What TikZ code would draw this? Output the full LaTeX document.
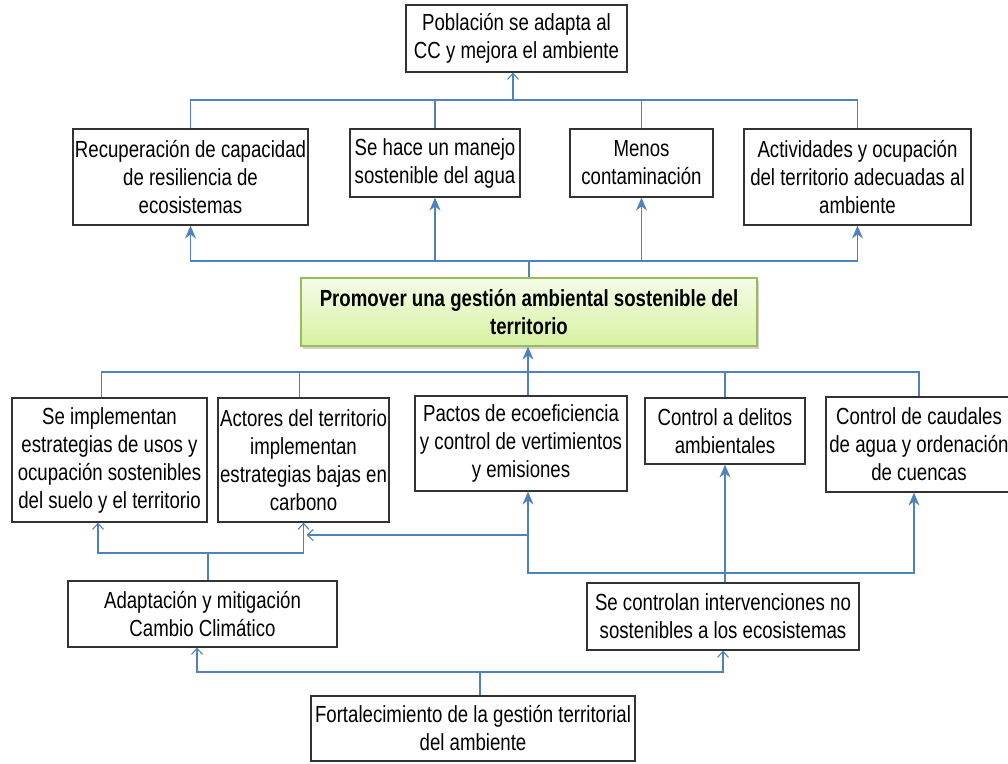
\documentclass[tikz,border=0pt]{standalone}
\usepackage{fontspec}
\setmainfont{Liberation Sans}[FakeStretch=0.80]
\usetikzlibrary{arrows.meta,shadows}
\definecolor{linkblue}{RGB}{79,129,189}
\definecolor{goalline}{RGB}{155,187,89}
\definecolor{goaltop}{RGB}{244,252,232}
\definecolor{goalbot}{RGB}{214,242,160}

\begin{document}
\begin{tikzpicture}[x=1pt, y=-1pt,
    box/.style={rectangle, draw=black!80, line width=1.2pt, fill=white, align=center,
                inner sep=0pt, font=\fontsize{23.3}{28}\selectfont},
    goal/.style={box, draw=goalline, top color=goaltop, bottom color=goalbot,
                 drop shadow={shadow xshift=2pt, shadow yshift=-3pt, fill=black!35}},
    link/.style={draw=linkblue, line width=1.1pt},
    arr/.style={link, -{Stealth[length=13pt, width=11pt]}},
    oarr/.style={link, -{Straight Barb[length=6pt, width=11pt]}}
]
    \useasboundingbox (0,0) rectangle (1008,763);

    % Top: final effect
    \node[box, minimum width=221pt, minimum height=67pt] (pob) at (516.5,38.5) {Población se adapta al\\CC y mejora el ambiente};

    % Effects row
    \node[box, minimum width=235pt, minimum height=96pt] (rec) at (190.5,177) {Recuperación de capacidad\\de resiliencia de\\ecosistemas};
    \node[box, minimum width=170pt, minimum height=68pt] (agua) at (435,163) {Se hace un manejo\\sostenible del agua};
    \node[box, minimum width=143pt, minimum height=68pt] (menos) at (641.5,163) {Menos\\contaminación};
    \node[box, minimum width=227pt, minimum height=96pt] (activ) at (857.5,177) {Actividades y ocupación\\del territorio adecuadas al\\ambiente};

    % Central objective
    \node[goal, minimum width=456pt, minimum height=68pt] (prom) at (529,312) {\textbf{Promover una gestión ambiental sostenible del}\\\textbf{territorio}};

    % Means row
    \node[box, minimum width=195pt, minimum height=124pt] (impl) at (109.5,460) {Se implementan\\estrategias de usos y\\ocupación sostenibles\\del suelo y el territorio};
    \node[box, minimum width=171pt, minimum height=124pt] (actor) at (303.5,460) {Actores del territorio\\implementan\\estrategias bajas en\\carbono};
    \node[box, minimum width=212pt, minimum height=95pt] (pacto) at (521,443.5) {Pactos de ecoeficiencia\\y control de vertimientos\\y emisiones};
    \node[box, minimum width=160pt, minimum height=66pt] (delito) at (725,431) {Control a delitos\\ambientales};
    \node[box, minimum width=186pt, minimum height=95pt] (caudal) at (919,444.5) {Control de caudales\\de agua y ordenación\\de cuencas};

    % Lower means
    \node[box, minimum width=269pt, minimum height=66pt] (adapt) at (202.5,614) {Adaptación y mitigación\\Cambio Climático};
    \node[box, minimum width=272pt, minimum height=67pt] (interv) at (723,616.5) {Se controlan intervenciones no\\sostenibles a los ecosistemas};
    \node[box, minimum width=324pt, minimum height=65pt] (fort) at (473,728.5) {Fortalecimiento de la gestión territorial\\del ambiente};

    % Effects up to final effect
    \coordinate (jtop) at (513,100);
    \draw[link] (rec.north) |- (jtop) -| (activ.north);
    \draw[link] (agua.north) -- (agua.north |- jtop);
    \draw[link] (menos.north) -- (menos.north |- jtop);
    \draw[oarr] (jtop) -- (jtop |- pob.south);

    % Objective up to effects
    \coordinate (jmid) at (529,261);
    \draw[link] (prom.north) -- (jmid);
    \draw[arr] (jmid) -| (rec.south);
    \draw[arr] (jmid) -| (activ.south);
    \draw[arr] (agua.south |- jmid) -- (agua.south);
    \draw[arr] (menos.south |- jmid) -- (menos.south);

    % Means up to objective
    \coordinate (jlow) at (528,372);
    \draw[arr] (jlow |- pacto.north) -- (jlow |- prom.south);
    \draw[link] ([xshift=-8pt]impl.north) |- (jlow) -| (caudal.north);
    \draw[link] ([xshift=-4pt]actor.north) -- ([xshift=-4pt]actor.north |- jlow);
    \draw[link] (delito.north) -- (delito.north |- jlow);

    % Climate change branch
    \coordinate (jcc) at (208,553);
    \draw[link] (jcc |- adapt.north) -- (jcc);
    \draw[oarr] (jcc) -| ([xshift=-11.5pt]impl.south);
    \draw[oarr] (jcc) -| (actor.south);

    % Control branch
    \coordinate (jsc) at (724,573);
    \coordinate (jpa) at (528,535);
    \draw[arr] (interv.north -| delito.south) -- (delito.south);
    \draw[arr] (jsc) -| (jlow |- pacto.south);
    \draw[arr] (jsc) -| ([xshift=-5pt]caudal.south);
    \draw[oarr] (jpa) -- ([xshift=3pt]actor.south |- jpa);

    % Root up to lower means
    \coordinate (jfo) at (480,672);
    \draw[link] (jfo |- fort.north) -- (jfo);
    \draw[oarr] (jfo) -| ([xshift=-5.5pt]adapt.south);
    \draw[oarr] (jfo) -| (interv.south);

\end{tikzpicture}
\end{document}
